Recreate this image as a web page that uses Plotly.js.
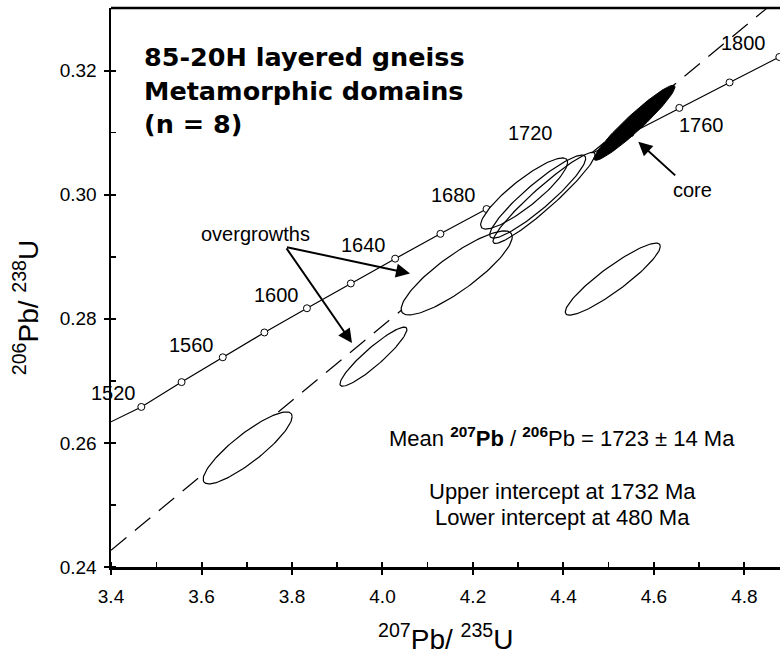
<!DOCTYPE html>
<html><head><meta charset="utf-8">
<script src="https://cdn.plot.ly/plotly-3.0.1.min.js"></script>
<style>html,body{margin:0;padding:0;background:#fff}</style>
</head><body><div id="chart" style="width:780px;height:655px"></div>
<script>
// Concordia age markers (Ma) and their ratios
const ages  = [1520, 1540, 1560, 1580, 1600, 1620, 1640, 1660, 1680, 1700, 1720, 1740, 1760, 1780, 1800];
const ageX  = [3.467, 3.556, 3.647, 3.739, 3.833, 3.930, 4.028, 4.128, 4.230, 4.334, 4.440, 4.548, 4.656, 4.767, 4.877];
const ageY  = [0.2658, 0.2698, 0.2738, 0.2778, 0.2817, 0.2857, 0.2897, 0.2937, 0.2977, 0.3018, 0.3058, 0.3099, 0.3140, 0.3181, 0.3222];
// Concordia curve path (edge points + markers)
const curveX = [3.400, 3.467, 3.556, 3.647, 3.739, 3.833, 3.930, 4.028, 4.128, 4.230, 4.334, 4.440, 4.548, 4.656, 4.767, 4.877, 4.885];
const curveY = [0.2634, 0.2658, 0.2698, 0.2738, 0.2778, 0.2817, 0.2857, 0.2897, 0.2937, 0.2977, 0.3018, 0.3058, 0.3099, 0.3140, 0.3181, 0.3222, 0.3225];
// Discordia line
const discX = [3.40, 4.85];
const discY = [0.2427, 0.3301];
// Error ellipses: centre, half-extents, correlation (last one = core)
const ellCx  = [3.702, 3.980, 4.164, 4.509, 4.313, 4.343, 4.357, 4.557];
const ellCy  = [0.2592, 0.2739, 0.2874, 0.2864, 0.3002, 0.2997, 0.2995, 0.3116];
const ellSx  = [0.0983, 0.0740, 0.1227, 0.1050, 0.0961, 0.1060, 0.1127, 0.0895];
const ellSy  = [0.00580, 0.00476, 0.00677, 0.00580, 0.00573, 0.00669, 0.00734, 0.00605];
const ellRho = [0.87, 0.92, 0.86, 0.91, 0.88, 0.92, 0.95, 0.955];
// Axis ticks
const xTicks = [3.4, 3.6, 3.8, 4.0, 4.2, 4.4, 4.6, 4.8];
const xTickText = ['3.4', '3.6', '3.8', '4.0', '4.2', '4.4', '4.6', '4.8'];
const yTicks = [0.24, 0.26, 0.28, 0.30, 0.32];
const yTickText = ['0.24', '0.26', '0.28', '0.30', '0.32'];

const FONT = 'Liberation Sans, Arial, Helvetica, sans-serif';
const BOLD = 'DejaVu Sans, Liberation Sans, Arial, sans-serif';
const XR = [3.4, 4.8785], YR = [0.24, 0.3301];

function ellipse(i) {
  const xs = [], ys = [];
  const s = Math.sqrt(1 - ellRho[i] * ellRho[i]);
  for (let k = 0; k <= 120; k++) {
    const t = 2 * Math.PI * k / 120;
    xs.push(ellCx[i] + ellSx[i] * Math.cos(t));
    ys.push(ellCy[i] + ellSy[i] * (ellRho[i] * Math.cos(t) + s * Math.sin(t)));
  }
  return {xs, ys};
}

const traces = [];
traces.push({x: curveX, y: curveY, mode: 'lines', line: {color: 'black', width: 1.2}, hoverinfo: 'skip'});
traces.push({x: ageX, y: ageY, text: ages, mode: 'markers',
  marker: {symbol: 'circle', size: 7, color: 'white', line: {color: 'black', width: 1}}, hoverinfo: 'text'});
traces.push({x: discX, y: discY, mode: 'lines', line: {color: 'black', width: 1.2, dash: '20px,11px'}, hoverinfo: 'skip'});
const core = ellCx.length - 1;
for (let i = 0; i < core; i++) {
  const e = ellipse(i);
  traces.push({x: e.xs, y: e.ys, mode: 'lines', fill: 'toself', fillcolor: 'white',
    line: {color: 'rgba(0,0,0,0)', width: 0}, hoverinfo: 'skip'});
}
for (let i = 0; i < core; i++) {
  const e = ellipse(i);
  traces.push({x: e.xs, y: e.ys, mode: 'lines', line: {color: 'black', width: 1.2}, hoverinfo: 'skip'});
}
{
  const e = ellipse(core);
  traces.push({x: e.xs, y: e.ys, mode: 'lines', fill: 'toself', fillcolor: 'black',
    line: {color: 'black', width: 1}, hoverinfo: 'skip'});
}
traces.push({x: [XR[0]], y: [YR[0]], xaxis: 'x2', yaxis: 'y2', mode: 'markers',
  marker: {opacity: 0}, hoverinfo: 'skip'});

function lab(text, x, y, size) {
  return {text: text, x: x, y: y, xref: 'x', yref: 'y', showarrow: false,
    font: {family: FONT, size: size || 20, color: 'black'}, xanchor: 'center', yanchor: 'middle'};
}
function arrow(hx, hy, tx, ty) {
  return {text: '', x: hx, y: hy, ax: tx, ay: ty, xref: 'x', yref: 'y', axref: 'x', ayref: 'y',
    showarrow: true, arrowhead: 2, arrowsize: 1.4, arrowwidth: 2, arrowcolor: 'black', standoff: 0};
}
function title(text, px, py) {
  return {text: text, x: px, y: py, xref: 'paper', yref: 'paper', showarrow: false,
    xanchor: 'left', yanchor: 'middle', font: {family: BOLD, size: 25.5, color: 'black', weight: 'bold'}};
}

const annotations = [
  title('85-20H layered gneiss', 0.046, 0.912),
  title('Metamorphic domains', 0.046, 0.852),
  title('(n = 8)', 0.046, 0.793),
  lab(String(ages[0]), 3.4055, 0.2681),
  lab(String(ages[2]), 3.579, 0.2758),
  lab(String(ages[4]), 3.7657, 0.2838),
  lab(String(ages[6]), 3.958, 0.2919),
  lab(String(ages[8]), 4.158, 0.2999),
  lab(String(ages[10]), 4.326, 0.3099),
  lab(String(ages[12]), 4.7039, 0.3112),
  lab(String(ages[14]), 4.7989, 0.3245),
  lab('overgrowths', 3.7204, 0.2936),
  lab('core', 4.6862, 0.3008),
  arrow(4.0608, 0.2873, 3.7856, 0.2916),
  arrow(3.9326, 0.2761, 3.7856, 0.2916),
  arrow(4.5653, 0.30855, 4.6502, 0.3029),
  lab('Mean <b><sup>207</sup>Pb</b> / <b><sup>206</sup></b>Pb = 1723 ± 14 Ma', 4.3978, 0.2609, 22),
  lab('Upper intercept at 1732 Ma', 4.3978, 0.2522, 22),
  lab('Lower intercept at 480 Ma', 4.3978, 0.2480, 22),
  {text: '<sup>207</sup>Pb/ <sup>235</sup>U', x: 0.5, y: -0.126, xref: 'paper', yref: 'paper',
   showarrow: false, xanchor: 'center', yanchor: 'middle', font: {family: FONT, size: 28, color: 'black'}},
  {text: '<sup>206</sup>Pb/ <sup>238</sup>U', x: -0.127, y: 0.463, xref: 'paper', yref: 'paper',
   showarrow: false, xanchor: 'center', yanchor: 'middle', textangle: -90,
   font: {family: FONT, size: 28, color: 'black'}}
];

const layout = {
  width: 780, height: 655,
  margin: {l: 111, r: 0, t: 8, b: 88, pad: 0},
  paper_bgcolor: 'white', plot_bgcolor: 'white',
  showlegend: false,
  xaxis: {range: XR, tickvals: xTicks, ticktext: xTickText, ticks: 'outside', ticklen: 5, tickwidth: 2,
    tickcolor: 'black', showline: true, linecolor: 'black', linewidth: 2.5, showgrid: false, zeroline: false,
    ticklabelstandoff: 6,
    tickfont: {family: FONT, size: 19, color: 'black'},
    minor: {dtick: 0.1, tick0: 3.4, ticks: 'inside', ticklen: 5, tickwidth: 1.5, tickcolor: 'black', showgrid: false}},
  yaxis: {range: YR, tickvals: yTicks, ticktext: yTickText, ticks: 'outside', ticklen: 5, tickwidth: 2,
    tickcolor: 'black', showline: true, linecolor: 'black', linewidth: 2.5, showgrid: false, zeroline: false,
    ticklabelstandoff: 3,
    tickfont: {family: FONT, size: 19, color: 'black'},
    minor: {dtick: 0.01, tick0: 0.24, ticks: 'inside', ticklen: 5, tickwidth: 1.5, tickcolor: 'black', showgrid: false}},
  xaxis2: {range: XR, overlaying: 'x', anchor: 'y2', side: 'bottom', tickvals: xTicks, ticks: 'inside', ticklen: 5,
    tickwidth: 2, tickcolor: 'black', showticklabels: false, showline: false, showgrid: false, zeroline: false},
  yaxis2: {range: YR, overlaying: 'y', anchor: 'x2', side: 'left', tickvals: yTicks, ticks: 'inside', ticklen: 5,
    tickwidth: 2, tickcolor: 'black', showticklabels: false, showline: false, showgrid: false, zeroline: false},
  shapes: [{type: 'line', xref: 'paper', yref: 'paper', x0: 0, x1: 1, y0: 1, y1: 1,
    line: {color: 'black', width: 2.5}}],
  annotations: annotations
};

Plotly.newPlot('chart', traces, layout, {staticPlot: true, displayModeBar: false});
</script>
</body></html>
